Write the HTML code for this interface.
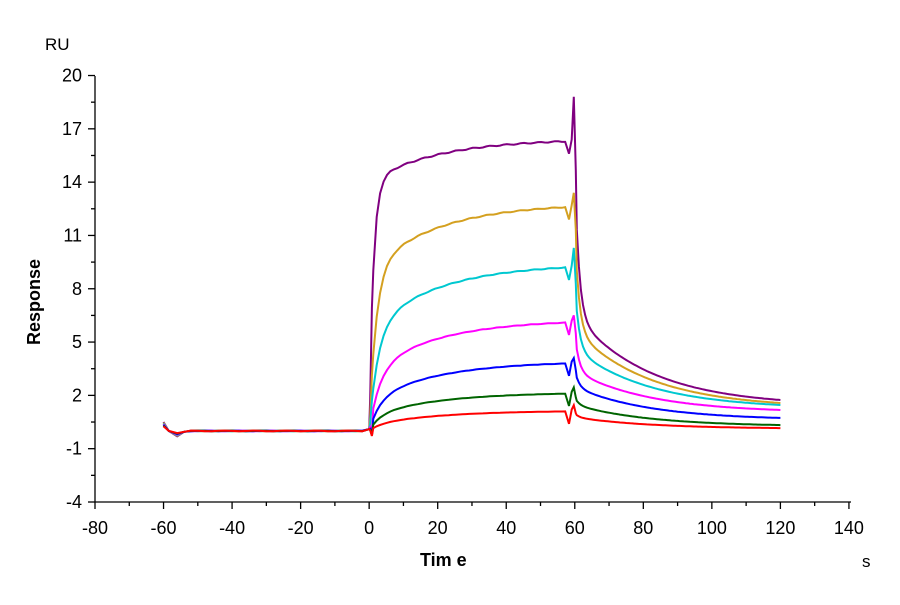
<!DOCTYPE html>
<html><head><meta charset="utf-8"><style>
body{margin:0;background:#fff;}
svg text{font-family:"Liberation Sans",Arial,sans-serif;}
</style></head><body>
<svg id="s" width="900" height="600" xmlns="http://www.w3.org/2000/svg">
<rect width="900" height="600" fill="#fff"/>
<g id="ax" stroke="#000" stroke-width="1.3" fill="none"></g>
<g id="lab" font-size="18" fill="#000"></g>
<g id="cv" fill="none" stroke-width="2"></g>
<text x="45" y="50" font-size="17">RU</text>
<text x="862" y="567" font-size="17">s</text>
<text x="420" y="566" font-size="18" font-weight="bold">Tim e</text>
<text transform="translate(40,302) rotate(-90)" text-anchor="middle" font-size="18" font-weight="bold">Response</text>
</svg>
<script>
const X=t=>95+(t+80)*3.427, Y=v=>502-(v+4)*17.77;
let ax='',lab='';
ax+=`<path d="M95,76V502H851"/>`;
for(let v=-4;v<=20;v+=1.5){let y=Y(v);let maj=((v+4)%3===0);ax+=`<path d="M95,${y}h${maj?-7:-4}"/>`;if(maj)lab+=`<text x="82" y="${y+6}" text-anchor="end">${v}</text>`;}
for(let t=-80;t<=140;t+=10){let x=X(t);let maj=(t%20===0);ax+=`<path d="M${x},502v${maj?7:4}"/>`;if(maj)lab+=`<text x="${x}" y="534" text-anchor="middle">${t}</text>`;}
document.getElementById('ax').innerHTML=ax;document.getElementById('lab').innerHTML=lab;
const C=[
['#800080',16.3,0.86,1.2,1.74,2.5,0.6],
['#d4a020',12.6,0.72,2.0,1.57,0.8,0.55],
['#00c8d0',9.2,0.62,2.5,1.46,1.1,0.5],
['#ff00ff',6.1,0.55,3,1.18,0.4,0.45],
['#0000ff',3.8,0.45,3,0.73,0.3,0.35],
['#006400',2.1,0.4,3,0.33,0.35,0.3],
['#ff0000',1.1,0.3,3,0.16,0.35,0.3]];
let out='';
C.forEach((c,i)=>{const[col,Rf,p,k1,E,sp,f]=c;let pts=[];
 const base=t=>0.02*Math.sin(t*0.7+i);
 pts.push([-60,0.5-i*0.04]);pts.push([-58.5,0]);pts.push([-56,-0.3+i*0.03]);pts.push([-54,-0.05]);
 for(let t=-52;t<=-1;t+=2)pts.push([t,base(t)]);
 pts.push([0,0.1]);
 const A=t=>Rf*(p*(1-Math.exp(-t/k1))+(1-p)*(1-Math.exp(-t/20))/(1-Math.exp(-58/20)));
 pts.push([0.3,A(0.3)*0.6]);pts.push([0.8,i>=3?-0.3+A(0.8)*0.2:A(0.8)]);
 for(let t=1.2;t<=57.5;t+=1)pts.push([t,A(t)+0.02*Rf/10*Math.sin(t*1.3+i)]);
 const R0=A(58);
 pts.push([58.3,R0-0.7]);pts.push([59.1,R0+0.1]);pts.push([59.7,R0+sp]);pts.push([60.3,R0*0.9]);
 const slow=R0*(1-f);
 const S=(slow-E)/(1-Math.exp(-60/22)), fl=E-S*Math.exp(-60/22);
 for(let t=60.6;t<=120;t+=0.6){const d=t-60;pts.push([t,(R0*0.9-slow)*Math.exp(-d/1.2)+S*Math.exp(-d/22)+fl]);}
 out+=`<polyline stroke="${col}" points="${pts.map(q=>X(q[0]).toFixed(1)+','+Y(q[1]).toFixed(1)).join(' ')}"/>`;
});
document.getElementById('cv').innerHTML=out;
</script>
</body></html>
